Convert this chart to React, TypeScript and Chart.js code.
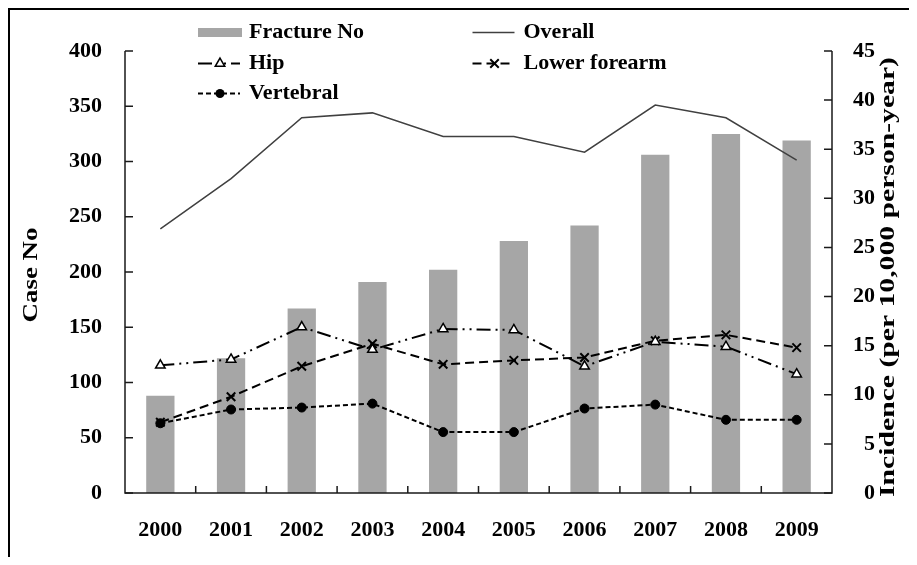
import React, { useEffect, useRef } from 'react';
import { Chart, registerables } from 'chart.js';

Chart.register(...registerables);

const FONT = '"Liberation Serif", "Times New Roman", Times, serif';

// ---- data ----
const years = ['2000', '2001', '2002', '2003', '2004', '2005', '2006', '2007', '2008', '2009'];
const fractureNo = [88, 122, 167, 191, 202, 228, 242, 306, 325, 319];
const overall = [26.9, 32.0, 38.2, 38.7, 36.3, 36.3, 34.7, 39.5, 38.2, 33.9];
const hip = [13.0, 13.6, 16.9, 14.6, 16.7, 16.6, 12.9, 15.4, 14.9, 12.1];
const lowerForearm = [7.2, 9.8, 12.9, 15.2, 13.1, 13.5, 13.8, 15.5, 16.1, 14.8];
const vertebral = [7.1, 8.5, 8.7, 9.1, 6.2, 6.2, 8.6, 9.0, 7.45, 7.45];

const leftAxis = { min: 0, max: 400, step: 50, title: 'Case No' };
const rightAxis = { min: 0, max: 45, step: 5, title: 'Incidence (per 10,000 person-year)' };

function drawMarker(ctx: CanvasRenderingContext2D, style: string, x: number, y: number, r: number) {
  ctx.save();
  ctx.setLineDash([]);
  ctx.strokeStyle = '#000';
  ctx.beginPath();
  if (style === 'triangle') {
    ctx.lineWidth = 1.5;
    ctx.fillStyle = '#fff';
    for (let i = 0; i < 3; i++) {
      const a = (i * 2 * Math.PI) / 3;
      const px = x + Math.sin(a) * r;
      const py = y - Math.cos(a) * r;
      if (i === 0) ctx.moveTo(px, py);
      else ctx.lineTo(px, py);
    }
    ctx.closePath();
    ctx.fill();
    ctx.stroke();
  } else if (style === 'crossRot') {
    ctx.lineWidth = 2;
    const d = r * Math.SQRT1_2;
    ctx.moveTo(x - d, y - d);
    ctx.lineTo(x + d, y + d);
    ctx.moveTo(x - d, y + d);
    ctx.lineTo(x + d, y - d);
    ctx.stroke();
  } else {
    ctx.fillStyle = '#000';
    ctx.arc(x, y, r, 0, Math.PI * 2);
    ctx.fill();
  }
  ctx.restore();
}

function drawVTitle(ctx: CanvasRenderingContext2D, text: string, cx: number, cy: number, len: number) {
  ctx.save();
  ctx.font = `bold 21px ${FONT}`;
  const w = ctx.measureText(text).width;
  ctx.translate(cx, cy);
  ctx.rotate(-Math.PI / 2);
  ctx.scale(len / w, 1);
  ctx.textAlign = 'center';
  ctx.textBaseline = 'middle';
  ctx.fillStyle = '#000';
  ctx.fillText(text, 0, 0);
  ctx.restore();
}

const decorPlugin = {
  id: 'decor',
  afterDraw(chart: any) {
    const { ctx, chartArea: a, scales } = chart;
    const x = scales.x;
    const y = scales.y;
    const y1 = scales.y1;
    ctx.save();
    ctx.strokeStyle = '#1a1a1a';
    ctx.lineWidth = 1.5;
    ctx.setLineDash([]);
    // axis lines
    ctx.beginPath();
    ctx.moveTo(a.left, a.top);
    ctx.lineTo(a.left, a.bottom);
    ctx.lineTo(a.right, a.bottom);
    ctx.lineTo(a.right, a.top);
    ctx.stroke();
    // inner ticks
    ctx.beginPath();
    y.ticks.forEach((t: any) => {
      const py = y.getPixelForValue(t.value);
      ctx.moveTo(a.left, py);
      ctx.lineTo(a.left + 8, py);
    });
    y1.ticks.forEach((t: any) => {
      const py = y1.getPixelForValue(t.value);
      ctx.moveTo(a.right, py);
      ctx.lineTo(a.right - 8, py);
    });
    const n = chart.data.labels.length;
    for (let i = 1; i < n; i++) {
      const px = (x.getPixelForValue(i - 1) + x.getPixelForValue(i)) / 2;
      ctx.moveTo(px, a.bottom);
      ctx.lineTo(px, a.bottom - 7);
    }
    ctx.stroke();
    ctx.restore();

    // axis titles
    drawVTitle(ctx, leftAxis.title, 21.5, 265, 95);
    drawVTitle(ctx, rightAxis.title, 879, 267, 440);

    // legend
    const ds = chart.data.datasets;
    const cols = [188, 462.5];
    const rows = [22.5, 53.5, 83.5];
    const symW = 42;
    const items = [
      { i: 0, c: 0, r: 0 },
      { i: 1, c: 1, r: 0 },
      { i: 2, c: 0, r: 1 },
      { i: 3, c: 1, r: 1 },
      { i: 4, c: 0, r: 2 },
    ];
    ctx.save();
    ctx.font = `bold 22px ${FONT}`;
    ctx.textBaseline = 'middle';
    ctx.textAlign = 'left';
    items.forEach(({ i, c, r }) => {
      const d = ds[i];
      const x0 = cols[c];
      const yc = rows[r];
      if (d.type === 'bar') {
        ctx.fillStyle = d.backgroundColor;
        ctx.fillRect(x0, yc - 4.5, symW + 2, 9);
      } else {
        ctx.save();
        ctx.strokeStyle = d.borderColor;
        ctx.lineWidth = d.borderWidth;
        ctx.setLineDash(d.borderDash || []);
        ctx.beginPath();
        ctx.moveTo(x0, yc);
        ctx.lineTo(x0 + symW, yc);
        ctx.stroke();
        ctx.restore();
        if (d.pointRadius > 0) drawMarker(ctx, d.pointStyle, x0 + symW / 2 + 1, yc, d.pointRadius);
      }
      ctx.fillStyle = '#000';
      ctx.fillText(d.label, x0 + symW + 9, yc);
    });
    ctx.restore();
  },
};

export default function App() {
  const ref = useRef<HTMLCanvasElement | null>(null);

  useEffect(() => {
    if (!ref.current) return;
    Chart.defaults.font.family = FONT;
    const tickFont = { size: 22, weight: 'bold' as const, family: FONT };
    const chart = new Chart(ref.current, {
      type: 'bar',
      data: {
        labels: years,
        datasets: [
          {
            type: 'bar',
            label: 'Fracture No',
            data: fractureNo,
            yAxisID: 'y',
            backgroundColor: '#a6a6a6',
            barPercentage: 0.8,
            categoryPercentage: 0.5,
            order: 10,
          },
          {
            type: 'line',
            label: 'Overall',
            data: overall,
            yAxisID: 'y1',
            borderColor: '#404040',
            borderWidth: 1.5,
            pointRadius: 0,
            order: 1,
          },
          {
            type: 'line',
            label: 'Hip',
            data: hip,
            yAxisID: 'y1',
            borderColor: '#000',
            borderWidth: 2,
            borderDash: [14, 5, 2, 5, 2, 5],
            pointStyle: 'triangle',
            pointRadius: 5.5,
            pointBackgroundColor: '#fff',
            pointBorderColor: '#000',
            pointBorderWidth: 1.5,
            order: 2,
          },
          {
            type: 'line',
            label: 'Lower forearm',
            data: lowerForearm,
            yAxisID: 'y1',
            borderColor: '#000',
            borderWidth: 2,
            borderDash: [9, 5],
            pointStyle: 'crossRot',
            pointRadius: 6,
            pointBorderColor: '#000',
            pointBorderWidth: 2,
            order: 3,
          },
          {
            type: 'line',
            label: 'Vertebral',
            data: vertebral,
            yAxisID: 'y1',
            borderColor: '#000',
            borderWidth: 2,
            borderDash: [5, 3],
            pointStyle: 'circle',
            pointRadius: 4.5,
            pointBackgroundColor: '#000',
            pointBorderColor: '#000',
            pointBorderWidth: 1,
            order: 4,
          },
        ] as any,
      },
      options: {
        responsive: false,
        animation: false,
        events: [],
        layout: { padding: { top: 41, left: 0, right: 34, bottom: 0 } },
        plugins: { legend: { display: false }, tooltip: { enabled: false } },
        scales: {
          x: {
            type: 'category',
            offset: true,
            grid: { display: false, drawTicks: false },
            border: { display: false },
            ticks: { font: tickFont, color: '#000', padding: 24, maxRotation: 0, autoSkip: false },
            afterFit: (s: any) => {
              s.height = 64;
            },
          },
          y: {
            position: 'left',
            min: leftAxis.min,
            max: leftAxis.max,
            grid: { display: false, drawTicks: false },
            border: { display: false },
            ticks: { stepSize: leftAxis.step, font: tickFont, color: '#000', padding: 23 },
            afterFit: (s: any) => {
              s.width = 115;
            },
          },
          y1: {
            position: 'right',
            min: rightAxis.min,
            max: rightAxis.max,
            grid: { display: false, drawTicks: false },
            border: { display: false },
            ticks: { stepSize: rightAxis.step, font: tickFont, color: '#000', padding: 21, crossAlign: 'far' },
            afterFit: (s: any) => {
              s.width = 43;
            },
          },
        },
      } as any,
      plugins: [decorPlugin],
    });
    return () => chart.destroy();
  }, []);

  return (
    <div
      style={{
        position: 'relative',
        width: 901,
        height: 549,
        boxSizing: 'border-box',
        borderTop: '2px solid #000',
        borderLeft: '2px solid #000',
        background: '#fff',
        overflow: 'hidden',
      }}
    >
      <canvas ref={ref} width={899} height={547} style={{ display: 'block' }} />
    </div>
  );
}
